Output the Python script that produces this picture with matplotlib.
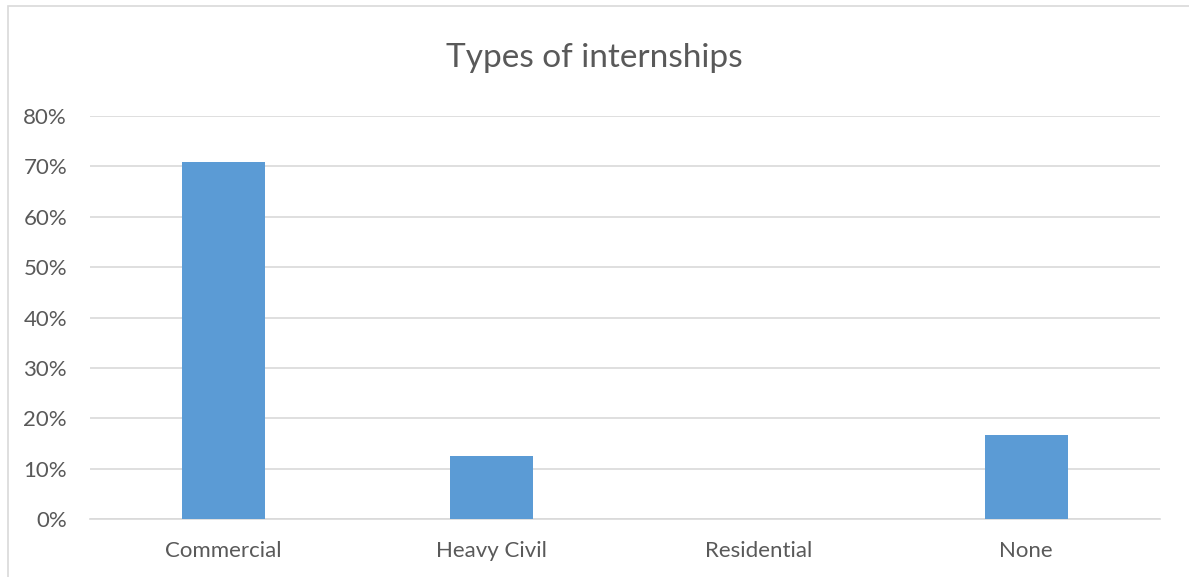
import matplotlib.pyplot as plt
from matplotlib.patches import Rectangle
from matplotlib.ticker import PercentFormatter

# internship types, share of respondents
categories = ['Commercial', 'Heavy Civil', 'Residential', 'None']
shares = [0.708, 0.125, 0.0, 0.167]
yticks = [0, 0.1, 0.2, 0.3, 0.4, 0.5, 0.6, 0.7, 0.8]

plt.rcParams['font.family'] = ['Lato', 'DejaVu Sans']
text_col = '#595959'
grid_col = '#D9D9D9'

fig = plt.figure(figsize=(11.89, 5.77), dpi=100)
ax = fig.add_axes([90 / 1189, 1 - 519 / 577, 1070 / 1189, 403 / 577])

# chart border (only left/top visible in the original crop)
fig.patches.append(Rectangle((8 / 1189, -0.1), 1.2, 1 - 6 / 577 + 0.1,
                             transform=fig.transFigure, fill=False,
                             edgecolor='#D9D9D9', linewidth=1.2))

x = range(len(categories))
ax.bar(x, shares, width=0.31, color='#5B9BD5', zorder=3)

ax.set_xlim(-0.5, len(categories) - 0.5)
ax.set_ylim(0, 0.8)
ax.set_yticks(yticks)
ax.yaxis.set_major_formatter(PercentFormatter(1.0, decimals=0))
ax.set_xticks(list(x))
ax.set_xticklabels(categories)

ax.grid(axis='y', color=grid_col, linewidth=1.2, zorder=0)
for s in ['top', 'right', 'left']:
    ax.spines[s].set_visible(False)
ax.spines['bottom'].set_color(grid_col)
ax.spines['bottom'].set_linewidth(1.2)
ax.tick_params(axis='both', length=0, labelsize=16, colors=text_col)
ax.tick_params(axis='y', pad=16.5)
ax.tick_params(axis='x', pad=16)

fig.text(0.5, 1 - 58 / 577, 'Types of internships', ha='center', va='center',
         fontsize=24, color=text_col)

fig.savefig('out.png', dpi=100)
